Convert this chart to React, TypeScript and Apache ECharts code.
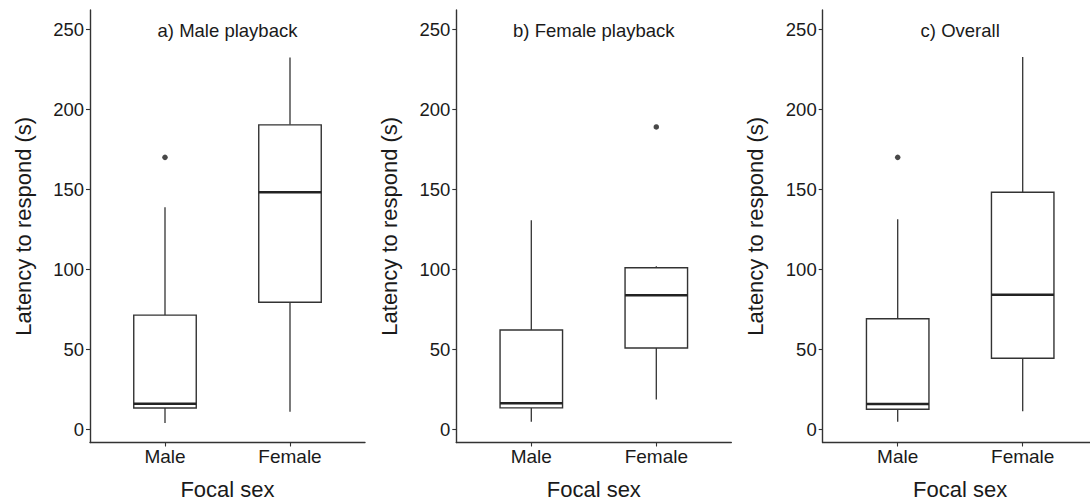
import React, { useEffect, useRef } from "react";
import * as echarts from "echarts";

const categories = ["Male", "Female"];
const panelTitles = ["a) Male playback", "b) Female playback", "c) Overall"];
const yTicks = [0, 50, 100, 150, 200, 250];

// [low whisker, Q1, median, Q3, high whisker] for Male, Female
const maleBoxes = [
  [4.2, 13.5, 16.2, 71.5, 138.8],
  [4.9, 13.6, 16.5, 62.2, 130.8],
  [4.9, 12.8, 16.0, 69.3, 131.3],
];
const femaleBoxes = [
  [11.2, 79.6, 148.2, 190.3, 232.3],
  [18.8, 51.0, 83.9, 101.1, 102.1],
  [11.5, 44.6, 84.3, 148.2, 232.6],
];
// outliers: [category position (1 = Male, 2 = Female), value]
const outliersA = [[1, 170]];
const outliersB = [[2, 189]];
const outliersC = [[1, 170]];
const outliers = [outliersA, outliersB, outliersC];

const FONT = "'Liberation Sans', Arial, sans-serif";
const INK = "#333333";

export default function App() {
  const ref = useRef<HTMLDivElement>(null);

  useEffect(() => {
    document.body.style.margin = "0";
    if (!ref.current) return;
    const chart = echarts.init(ref.current, null, { renderer: "svg" });

    const gridLefts = [90, 456.3, 822.7];
    const grids = gridLefts.map((l) => ({
      left: l,
      top: 10,
      width: 275,
      height: 432.5,
      containLabel: false,
      outerBoundsMode: "none",
    }));

    const xAxes = gridLefts.map((_, i) => ({
      type: "value",
      gridIndex: i,
      min: 0.4,
      max: 2.6,
      name: "Focal sex",
      nameLocation: "middle",
      nameGap: 36,
      nameTextStyle: { fontFamily: FONT, fontSize: 22, color: "#1a1a1a" },
      axisLine: { show: true, onZero: false, lineStyle: { color: INK, width: 1.4 } },
      axisTick: { show: true, length: 4, customValues: [1, 2], lineStyle: { color: INK, width: 1.1 } },
      axisLabel: {
        show: true,
        customValues: [1, 2],
        formatter: (v: number) => categories[Math.round(v) - 1] || "",
        fontFamily: FONT,
        fontSize: 19,
        color: "#1a1a1a",
        margin: 4,
      },
      splitLine: { show: false },
    }));

    const yAxes = gridLefts.map((_, i) => ({
      type: "value",
      gridIndex: i,
      min: -8,
      max: 262,
      name: "Latency to respond (s)",
      nameLocation: "middle",
      nameGap: 56,
      nameRotate: 90,
      nameTextStyle: { fontFamily: FONT, fontSize: 22, color: "#1a1a1a" },
      axisLine: { show: true, onZero: false, lineStyle: { color: INK, width: 1.4 } },
      axisTick: { show: true, length: 4, customValues: yTicks, lineStyle: { color: INK, width: 1.1 } },
      axisLabel: {
        show: true,
        customValues: yTicks,
        fontFamily: FONT,
        fontSize: 18.5,
        color: "#1a1a1a",
        margin: 6,
      },
      splitLine: { show: false },
    }));

    const renderBox = (params: any, api: any) => {
      const x = api.value(0);
      const lo = api.coord([x, api.value(1)]);
      const q1 = api.coord([x, api.value(2)]);
      const med = api.coord([x, api.value(3)]);
      const q3 = api.coord([x, api.value(4)]);
      const hi = api.coord([x, api.value(5)]);
      const w = api.size([0.5, 0])[0];
      const cx = lo[0];
      const line = { stroke: INK, lineWidth: 1.3, fill: null };
      return {
        type: "group",
        children: [
          { type: "line", shape: { x1: cx, y1: hi[1], x2: cx, y2: q3[1] }, style: line },
          { type: "line", shape: { x1: cx, y1: q1[1], x2: cx, y2: lo[1] }, style: line },
          {
            type: "rect",
            shape: { x: cx - w / 2, y: q3[1], width: w, height: q1[1] - q3[1] },
            style: { stroke: INK, lineWidth: 1.4, fill: "#ffffff" },
          },
          {
            type: "line",
            shape: { x1: cx - w / 2, y1: med[1], x2: cx + w / 2, y2: med[1] },
            style: { stroke: "#222222", lineWidth: 2.5 },
          },
        ],
      };
    };

    const series: any[] = [];
    for (let i = 0; i < 3; i++) {
      series.push({
        type: "custom",
        xAxisIndex: i,
        yAxisIndex: i,
        renderItem: renderBox,
        encode: { x: 0, y: [1, 2, 3, 4, 5] },
        data: [
          [1, ...maleBoxes[i]],
          [2, ...femaleBoxes[i]],
        ],
        clip: false,
      });
      series.push({
        type: "scatter",
        xAxisIndex: i,
        yAxisIndex: i,
        symbol: "circle",
        symbolSize: 5.5,
        itemStyle: { color: "#1a1a1a" },
        data: outliers[i],
      });
    }

    chart.setOption({
      animation: false,
      backgroundColor: "#ffffff",
      grid: grids,
      xAxis: xAxes,
      yAxis: yAxes,
      series,
      graphic: panelTitles.map((t, i) => ({
        type: "text",
        x: gridLefts[i] + 137.5,
        y: 30,
        style: {
          text: t,
          fontFamily: FONT,
          fontSize: 18.5,
          fill: "#1a1a1a",
          textAlign: "center",
          textVerticalAlign: "middle",
        },
      })),
    });

    return () => chart.dispose();
  }, []);

  return (
    <div
      ref={ref}
      style={{ position: "fixed", left: 0, top: 0, width: 1090, height: 504, background: "#fff" }}
    />
  );
}
